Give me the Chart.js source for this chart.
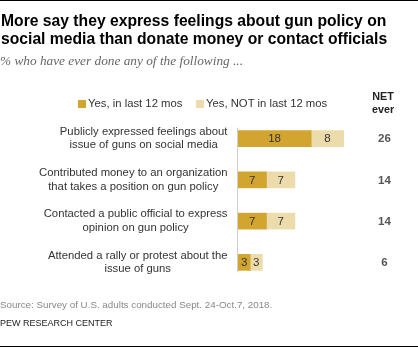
<!DOCTYPE html>
<html>
<head>
<meta charset="utf-8">
<script src="https://cdn.jsdelivr.net/npm/chart.js@4"></script>
<style>
  html, body { margin: 0; padding: 0; background: #fff; }
  body { width: 418px; height: 347px; position: relative; overflow: hidden; font-family: "Liberation Sans", Arial, sans-serif; }
  .rule { position: absolute; left: 0; width: 418px; height: 1px; background: #000; }
  #chart { position: absolute; left: 0; top: 0; }
  .title { position: absolute; left: 1px; top: 12px; font-weight: bold; font-size: 15.7px; line-height: 17.8px; color: #000; white-space: nowrap; }
  .subtitle { position: absolute; left: 0; top: 53px; font-family: "Liberation Serif", serif; font-style: italic; font-size: 13.3px; color: #666; white-space: nowrap; }
  .legend { position: absolute; top: 97px; font-size: 11.3px; color: #333; white-space: nowrap; }
  .legend span.sw { display: inline-block; width: 8px; height: 8px; margin-right: 2px; vertical-align: -1px; }
  .net { position: absolute; left: 362px; width: 42px; top: 90px; text-align: center; font-weight: bold; font-size: 10.8px; line-height: 13px; color: #222; }
  .source { position: absolute; left: 0; top: 299px; font-size: 9.8px; color: #888; white-space: nowrap; }
  .pew { position: absolute; left: 0; top: 318px; font-size: 9px; color: #222; white-space: nowrap; }
</style>
</head>
<body>
<div class="rule" style="top:0"></div>
<canvas id="chart" width="418" height="347"></canvas>
<div class="title">More say they express feelings about gun policy on<br>social media than donate money or contact officials</div>
<div class="subtitle">% who have ever done any of the following ...</div>
<div class="legend" id="leg0" style="left:78px"></div>
<div class="legend" id="leg1" style="left:196px"></div>
<div class="net">NET<br>ever</div>
<div class="source">Source: Survey of U.S. adults conducted Sept. 24-Oct.7, 2018.</div>
<div class="pew">PEW RESEARCH CENTER</div>
<div class="rule" style="top:346px"></div>
<script>
// categories, each one split into its display lines
const categories = [
  ["Publicly expressed feelings about", "issue of guns on social media"],
  ["Contributed money to an organization", "that takes a position on gun policy"],
  ["Contacted a public official to express", "opinion on gun policy"],
  ["Attended a rally or protest about the", "issue of guns"]
];
const seriesNames = ["Yes, in last 12 mos", "Yes, NOT in last 12 mos"];
const inLast12 = [18, 7, 7, 3];
const notInLast12 = [8, 7, 7, 3];
const colors = ["#d2a531", "#ecdcab"];

// legend swatches
seriesNames.forEach((name, i) => {
  document.getElementById("leg" + i).innerHTML =
    '<span class="sw" style="background:' + colors[i] + '"></span>' + name;
});

const labelFont = '11.3px "Liberation Sans", Arial, sans-serif';

const annotate = {
  id: "annotate",
  afterDatasetsDraw(chart) {
    const { ctx, chartArea } = chart;
    const y = chart.scales.y;
    ctx.save();

    // thin vertical baseline
    const first = y.getPixelForValue(0);
    const last = y.getPixelForValue(categories.length - 1);
    ctx.strokeStyle = "#cfcfcf";
    ctx.lineWidth = 1;
    ctx.beginPath();
    ctx.moveTo(chartArea.left - 0.5, first - 11);
    ctx.lineTo(chartArea.left - 0.5, last + 10);
    ctx.stroke();

    // category labels: lines centred, block right-aligned next to the axis
    ctx.font = labelFont;
    ctx.fillStyle = "#333";
    ctx.textAlign = "center";
    ctx.textBaseline = "middle";
    categories.forEach((lines, i) => {
      const cy = y.getPixelForValue(i);
      const widest = Math.max(...lines.map(l => ctx.measureText(l).width));
      const cx = chartArea.left - 10.5 - widest / 2;
      lines.forEach((l, j) => {
        ctx.fillText(l, cx, cy + (j - (lines.length - 1) / 2) * 13.5);
      });
    });

    // values inside each segment
    ctx.font = '11.5px "Liberation Sans", Arial, sans-serif';
    ctx.fillStyle = "#333";
    chart.data.datasets.forEach((ds, d) => {
      chart.getDatasetMeta(d).data.forEach((bar, i) => {
        ctx.fillText(ds.data[i], (bar.x + bar.base) / 2, bar.y + 0.5);
      });
    });

    // NET column
    ctx.font = 'bold 11.5px "Liberation Sans", Arial, sans-serif';
    ctx.fillStyle = "#555";
    inLast12.forEach((v, i) => {
      ctx.fillText(v + notInLast12[i], 384.5, y.getPixelForValue(i) + 0.5);
    });
    ctx.restore();
  }
};

new Chart(document.getElementById("chart"), {
  type: "bar",
  data: {
    labels: categories.map(c => c.join(" ")),
    datasets: [
      { label: seriesNames[0], data: inLast12, backgroundColor: colors[0] },
      { label: seriesNames[1], data: notInLast12, backgroundColor: colors[1] }
    ]
  },
  options: {
    indexAxis: "y",
    responsive: false,
    animation: false,
    layout: { padding: { top: 118, bottom: 64, left: 238, right: 58 } },
    datasets: { bar: { barThickness: 16 } },
    scales: {
      x: { stacked: true, min: 0, max: 30, display: false },
      y: { stacked: true, display: false }
    },
    plugins: { legend: { display: false }, tooltip: { enabled: false } }
  },
  plugins: [annotate]
});
</script>
</body>
</html>
